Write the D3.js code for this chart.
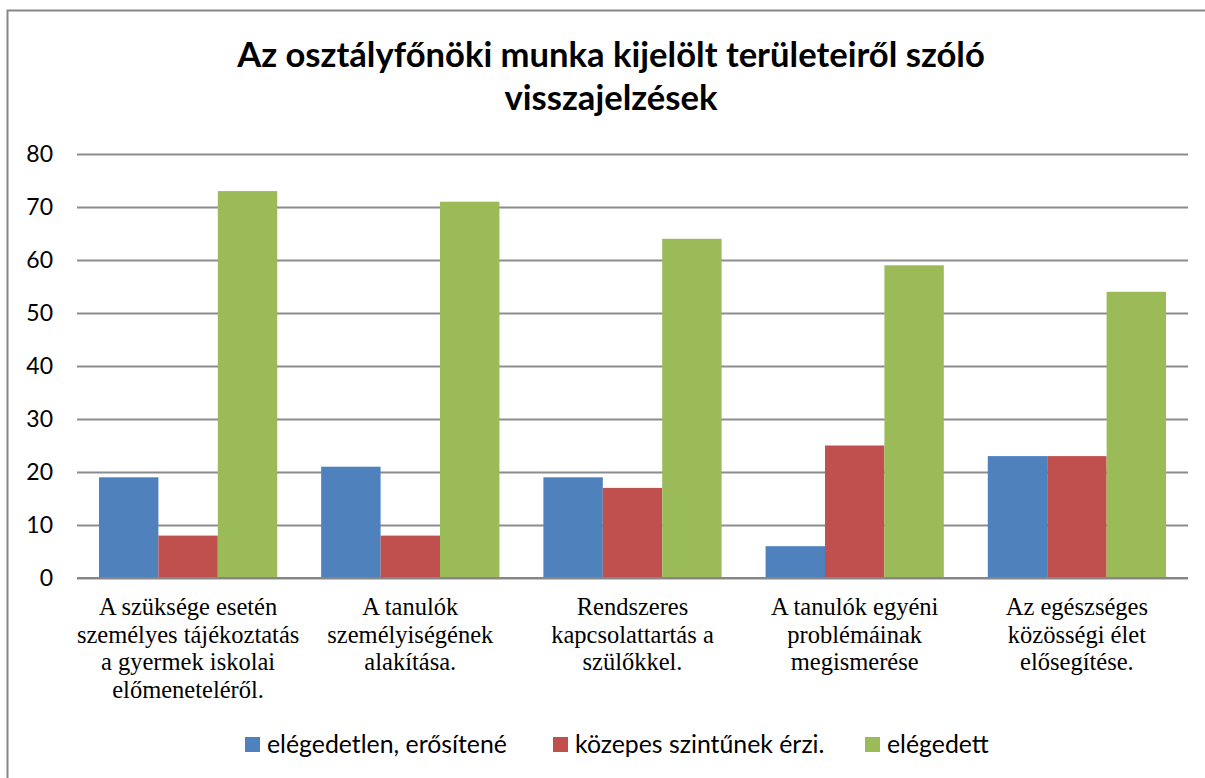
<!DOCTYPE html>
<html>
<head>
<meta charset="utf-8">
<style>
body { margin: 0; background: #fff; }
svg { display: block; }
.tick text { font-family: Lato, "Open Sans", sans-serif; font-size: 23px; fill: #000; }
</style>
</head>
<body>
<script src="https://cdn.jsdelivr.net/npm/d3@7"></script>
<script>
// data
var categories = [
  ["A szüksége esetén", "személyes tájékoztatás", "a gyermek iskolai", "előmeneteléről."],
  ["A tanulók", "személyiségének", "alakítása."],
  ["Rendszeres", "kapcsolattartás a", "szülőkkel."],
  ["A tanulók egyéni", "problémáinak", "megismerése"],
  ["Az egészséges", "közösségi élet", "elősegítése."]
];
var seriesNames = ["elégedetlen, erősítené", "közepes szintűnek érzi.", "elégedett"];
var elegedetlen = [19, 21, 19, 6, 23];
var kozepes = [8, 8, 17, 25, 23];
var elegedett = [73, 71, 64, 59, 54];
var colors = ["#4f81bd", "#c0504d", "#9bbb59"];
var yTicks = [0, 10, 20, 30, 40, 50, 60, 70, 80];
var titleLines = ["Az osztályfőnöki munka kijelölt területeiről szóló", "visszajelzések"];

var W = 1205, H = 778;
var plotL = 77, plotR = 1188, plotT = 154, plotB = 578;

var svg = d3.select("body").append("svg").attr("width", W).attr("height", H);

// outer chart border (right/bottom run off the picture)
svg.append("rect")
  .attr("x", 7.5).attr("y", 10.5)
  .attr("width", 1215).attr("height", 790)
  .attr("fill", "none").attr("stroke", "#868686").attr("stroke-width", 2);

// title
var title = svg.append("g");
titleLines.forEach(function(t, i) {
  title.append("text")
    .attr("x", 611).attr("y", 67 + i * 43)
    .attr("text-anchor", "middle")
    .style("font-family", "Lato, 'Open Sans', sans-serif")
    .style("font-weight", "bold")
    .style("font-size", "32px")
    .text(t);
});
// fit first line to the width seen in the picture
var w0 = title.select("text").node().getComputedTextLength();
title.selectAll("text").style("font-size", (32 * 748 / w0) + "px");

var x0 = d3.scaleBand().domain(d3.range(categories.length)).range([plotL, plotR]);
var x1 = d3.scaleBand().domain([0, 1, 2]).range([0, x0.bandwidth()]).paddingOuter(0.37).paddingInner(0);
var y = d3.scaleLinear().domain([0, 80]).range([plotB, plotT]);

// gridlines + tick labels
svg.append("g")
  .attr("transform", "translate(" + plotL + ",0)")
  .call(d3.axisLeft(y).tickValues(yTicks).tickSize(-(plotR - plotL)).tickPadding(24))
  .call(function(g) {
    g.select(".domain").remove();
    g.selectAll(".tick line").attr("stroke", "#8c8c8c").attr("stroke-width", 2);
  });

var series = [elegedetlen, kozepes, elegedett];
var groups = svg.append("g").selectAll("g")
  .data(categories)
  .enter().append("g")
  .attr("transform", function(d, i) { return "translate(" + x0(i) + ",0)"; });

groups.selectAll("rect")
  .data(function(d, i) { return series.map(function(s, k) { return { k: k, v: s[i] }; }); })
  .enter().append("rect")
  .attr("x", function(d) { return x1(d.k); })
  .attr("width", x1.bandwidth())
  .attr("y", function(d) { return y(d.v); })
  .attr("height", function(d) { return y(0) - y(d.v); })
  .attr("fill", function(d) { return colors[d.k]; });

// x axis line
svg.append("line")
  .attr("x1", plotL).attr("x2", plotR)
  .attr("y1", y(0)).attr("y2", y(0))
  .attr("stroke", "#868686").attr("stroke-width", 2);

// category labels
groups.append("text")
  .attr("text-anchor", "middle")
  .style("font-family", "'Liberation Serif', 'Times New Roman', serif")
  .style("font-size", "24.5px")
  .selectAll("tspan")
  .data(function(d) { return d; })
  .enter().append("tspan")
  .attr("x", x0.bandwidth() / 2)
  .attr("y", function(d, i) { return 615 + i * 27.7; })
  .text(function(d) { return d; });

// legend
var legendX = [245, 553, 865];
var legend = svg.append("g").selectAll("g")
  .data(seriesNames)
  .enter().append("g")
  .attr("transform", function(d, i) { return "translate(" + legendX[i] + ",737)"; });
legend.append("rect")
  .attr("width", 15).attr("height", 15)
  .attr("fill", function(d, i) { return colors[i]; });
var legendText = legend.append("text")
  .attr("x", 22).attr("y", 16)
  .style("font-family", "Lato, 'Open Sans', sans-serif")
  .style("font-size", "23px")
  .text(function(d) { return d; });
var lw = legendText.node().getComputedTextLength();
legendText.style("font-size", (23 * 240 / lw) + "px");
</script>
</body>
</html>
